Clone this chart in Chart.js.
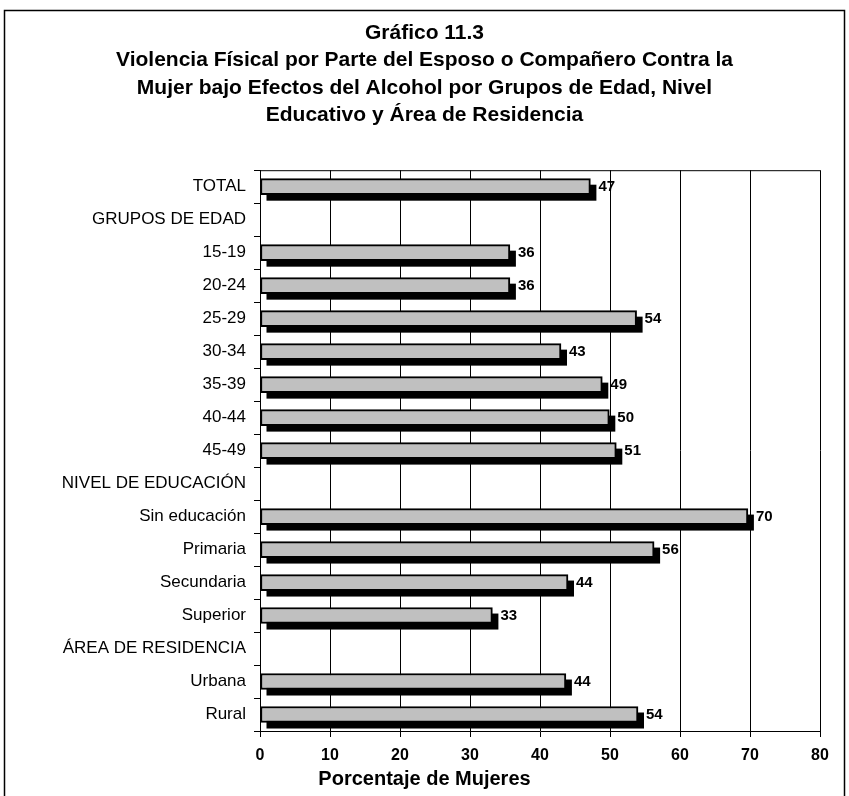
<!DOCTYPE html>
<html>
<head>
<meta charset="utf-8">
<script src="https://cdn.jsdelivr.net/npm/chart.js@4/dist/chart.umd.min.js"></script>
<style>
  html, body { margin: 0; padding: 0; background: #fff; }
</style>
</head>
<body>
<canvas id="chart" width="849" height="796"></canvas>
<script>
// Chart data
const categories = [
    'TOTAL', 'GRUPOS DE EDAD', '15-19', '20-24', '25-29', '30-34', '35-39', '40-44', '45-49',
    'NIVEL DE EDUCACIÓN', 'Sin educación', 'Primaria', 'Secundaria', 'Superior',
    'ÁREA DE RESIDENCIA', 'Urbana', 'Rural'
];
const values = [47.2, null, 35.7, 35.7, 53.8, 43.0, 48.9, 49.9, 50.9, null, 69.7, 56.3, 44.0, 33.2, null, 43.7, 54.0];
const valueLabels = ['47', '', '36', '36', '54', '43', '49', '50', '51', '', '70', '56', '44', '33', '', '44', '54'];
const titleLines = [
    'Gráfico 11.3',
    'Violencia Físical por Parte del Esposo o Compañero Contra la',
    'Mujer bajo Efectos del Alcohol por Grupos de Edad, Nivel',
    'Educativo y Área de Residencia'
];
const xTitle = 'Porcentaje de Mujeres';

const FONT = 'Liberation Sans, Arial, Helvetica, sans-serif';

// black offset block behind every bar
const shadowPlugin = {
    id: 'shadow',
    beforeDatasetsDraw(chart) {
        const ctx = chart.ctx;
        ctx.save();
        ctx.fillStyle = '#000';
        chart.getDatasetMeta(0).data.forEach((bar, i) => {
            if (values[i] == null) return;
            const p = bar.getProps(['x', 'y', 'base', 'height'], true);
            ctx.fillRect(p.base + 6, p.y - p.height / 2 + 6, p.x - p.base, p.height);
        });
        ctx.restore();
    }
};

// value labels at the end of the bars
const labelPlugin = {
    id: 'valueLabels',
    afterDatasetsDraw(chart) {
        const ctx = chart.ctx;
        ctx.save();
        ctx.fillStyle = '#000';
        ctx.font = 'bold 15px ' + FONT;
        ctx.textAlign = 'left';
        ctx.textBaseline = 'middle';
        chart.getDatasetMeta(0).data.forEach((bar, i) => {
            if (values[i] == null) return;
            ctx.fillText(valueLabels[i], bar.x + 8, bar.y);
        });
        ctx.restore();
    }
};

// top edge of the plot and outer frame
const framePlugin = {
    id: 'frame',
    afterDraw(chart) {
        const ctx = chart.ctx;
        const a = chart.chartArea;
        ctx.save();
        ctx.strokeStyle = '#000';
        ctx.lineWidth = 1;
        ctx.beginPath();
        ctx.moveTo(a.left, a.top + 0.5);
        ctx.lineTo(a.right, a.top + 0.5);
        ctx.stroke();
        ctx.lineWidth = 1.5;
        ctx.strokeRect(4.5, 10.5, 840, 820);
        ctx.restore();
    }
};

new Chart(document.getElementById('chart'), {
    type: 'bar',
    data: {
        labels: categories,
        datasets: [{
            data: values,
            backgroundColor: '#c0c0c0',
            borderColor: '#000',
            borderWidth: 2,
            borderSkipped: false,
            barThickness: 16
        }]
    },
    options: {
        indexAxis: 'y',
        responsive: false,
        animation: false,
        layout: { padding: { top: 0, right: 29, bottom: 0, left: 29 } },
        plugins: {
            legend: { display: false },
            tooltip: { enabled: false },
            title: {
                display: true,
                text: titleLines,
                color: '#000',
                font: { family: FONT, size: 21, weight: 'bold', lineHeight: 1.3 },
                padding: { top: 19.5, bottom: 41.5 }
            },
            subtitle: {
                display: true,
                position: 'bottom',
                text: xTitle,
                color: '#000',
                font: { family: FONT, size: 20, weight: 'bold', lineHeight: 1.2 },
                padding: { top: 0, bottom: 5 }
            }
        },
        scales: {
            x: {
                min: 0,
                max: 80,
                ticks: {
                    stepSize: 10,
                    color: '#000',
                    padding: 9,
                    font: { family: FONT, size: 16, weight: 'bold' }
                },
                grid: { color: '#000', lineWidth: 1, tickLength: 6 },
                border: { color: '#000', width: 1 },
                afterFit(scale) { scale.height = 36; }
            },
            y: {
                ticks: {
                    color: '#000',
                    padding: 8,
                    font: { family: FONT, size: 17 }
                },
                grid: { drawOnChartArea: false, color: '#000', tickLength: 6, offset: true },
                border: { color: '#000', width: 1 },
                afterFit(scale) { scale.width = 231; }
            }
        }
    },
    plugins: [shadowPlugin, labelPlugin, framePlugin]
});
</script>
</body>
</html>
